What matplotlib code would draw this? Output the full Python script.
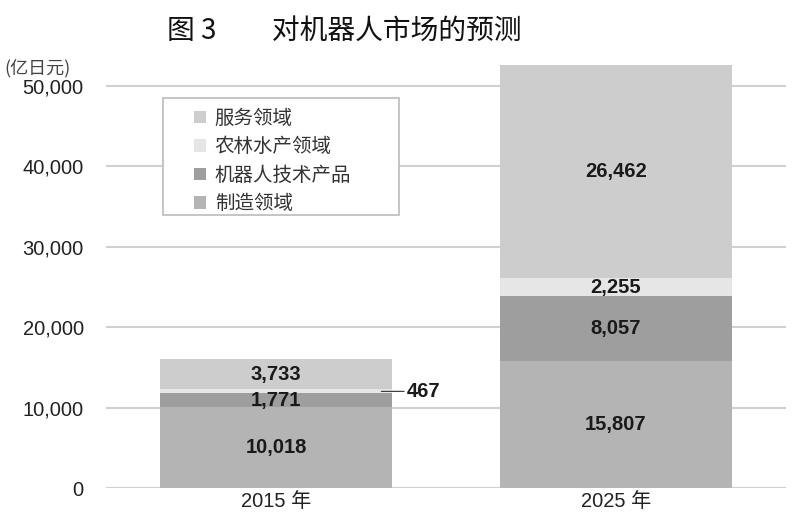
import numpy as np
import matplotlib.pyplot as plt
from matplotlib.patches import Rectangle

plt.rcParams['font.family'] = ['Liberation Sans', 'Noto Sans CJK SC', 'DejaVu Sans']

# Data (亿日元)
years = ['2015 年', '2025 年']
series = ['制造领域', '机器人技术产品', '农林水产领域', '服务领域']
manufacturing = [10018, 15807]
robot_tech = [1771, 8057]
agri = [467, 2255]
service = [3733, 26462]
colors = ['#b4b4b4', '#9e9e9e', '#e6e6e6', '#cdcdcd']

values = [manufacturing, robot_tech, agri, service]

fig = plt.figure(figsize=(8, 5.24), dpi=100)
ax = fig.add_axes([0.1325, 0.0687, 0.85, 0.813])

x = np.arange(len(years))
bottom = np.zeros(len(years))
bars = []
for name, vals, c in zip(series, values, colors):
    b = ax.bar(x, vals, width=0.68, bottom=bottom, color=c, label=name, zorder=2)
    bars.append(b)
    for xi, v, b0 in zip(x, vals, bottom):
        if xi == 0 and name == '农林水产领域':
            continue
        ax.text(xi, b0 + v / 2, f'{v:,}', ha='center', va='center',
                fontsize=14.5, fontweight='bold', color='#1a1a1a', zorder=3)
    bottom += np.array(vals)

# small slice label for 2015 agri
y467 = manufacturing[0] + robot_tech[0] + agri[0] / 2
ax.annotate(f'{agri[0]:,}', xy=(0.31, y467), xytext=(0.385, y467),
            fontsize=14.5, fontweight='bold', color='#1a1a1a', va='center',
            arrowprops=dict(arrowstyle='-', color='#333333', lw=0.8,
                            shrinkA=0, shrinkB=0))

ax.set_xlim(-0.5, 1.5)
ax.set_ylim(0, 53000)
ax.set_yticks(np.arange(0, 50001, 10000))
ax.set_yticklabels([f'{v:,}' for v in range(0, 50001, 10000)], fontsize=14.5, color='#222222')
ax.set_xticks(x)
ax.set_xticklabels(years, fontsize=14.5, color='#222222')
ax.tick_params(axis='y', length=0, pad=16)
ax.tick_params(axis='x', length=0, pad=3)
ax.yaxis.grid(True, color='#d0d0d0', lw=1.5, zorder=0)
for s in ax.spines.values():
    s.set_visible(False)
ax.axhline(0, color='#d0d0d0', lw=1.5, zorder=1)

# legend (frame drawn separately to get the wide padding of the original)
handles = bars[::-1]
leg = fig.legend(handles, series[::-1], loc='upper left', bbox_to_anchor=(194 / 800, 1 - 108 / 524),
                 fontsize=14, frameon=False,
                 handlelength=0.62, handleheight=0.62, handletextpad=0.45,
                 labelspacing=0.38, borderpad=0, borderaxespad=0)
for t in leg.get_texts():
    t.set_color('#333333')
    t.set_fontfamily(['Noto Sans CJK SC'])
fig.patches.append(Rectangle((163 / 800, 1 - 215 / 524), 236 / 800, 117 / 524,
                             transform=fig.transFigure, facecolor='white',
                             edgecolor='#bbbbbb', lw=1.2, zorder=3))

fig.text(0.006, 0.870, '(亿日元)', fontsize=13, color='#444444',
         family=['Noto Sans CJK SC'], va='center')
fig.text(0.43, 0.942, '图 3　　对机器人市场的预测', fontsize=20, ha='center',
         va='center', family=['Noto Sans CJK SC'], color='#111111')

fig.savefig('out.png', dpi=100)
